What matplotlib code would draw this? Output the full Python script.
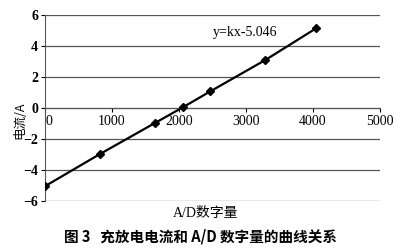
import matplotlib
matplotlib.use("Agg")
import matplotlib.pyplot as plt

# A/D count vs. current
ad_counts = [0, 820, 1640, 2060, 2470, 3290, 4050]
current = [-5.046, -2.97, -0.97, 0.05, 1.08, 3.1, 5.15]
x_ticks = [0, 1000, 2000, 3000, 4000, 5000]
y_ticks = [-6, -4, -2, 0, 2, 4, 6]

plt.rcParams['font.family'] = ['Liberation Serif', 'Noto Sans CJK SC']

fig = plt.figure(figsize=(4, 2.5), dpi=100)
ax = fig.add_axes([0.1125, 0.196, 0.8375, 0.744])

for y in y_ticks:
    ax.axhline(y, color='#555555', lw=0.9, zorder=0)

ax.plot(ad_counts, current, color='black', lw=1.6, marker='D', ms=4, zorder=3)

ax.set_xlim(0, 5000)
ax.set_ylim(-6, 6)
ax.set_yticks(y_ticks)
ax.set_yticklabels(['\u22126', '\u22124', '\u22122', '0', '2', '4', '6'], fontsize=10, fontweight='bold')
ax.set_xticks(x_ticks)
ax.set_xticklabels([str(v) for v in x_ticks], fontsize=10)

for s in ['top', 'right']:
    ax.spines[s].set_visible(False)
ax.spines['bottom'].set_position(('data', 0))
ax.spines['bottom'].set_color('#555555')
ax.spines['left'].set_color('#555555')
ax.tick_params(axis='x', direction='out', length=3, pad=2)
ax.tick_params(axis='y', direction='out', length=3, pad=2)

# nudge the "0" label off the y axis like the original
fig.canvas.draw()
ax.xaxis.get_major_ticks()[0].label1.set_horizontalalignment('left')

ax.text(2510, 4.9, 'y=kx-5.046', fontsize=10, va='center')

fig.text(0.05, 0.52, '电流/A', rotation=90, ha='center', va='center', fontsize=9,
         family=['Noto Sans CJK SC', 'DejaVu Sans'])
fig.text(0.515, 0.148, 'A/D数字量', ha='center', va='center', fontsize=10,
         family=['Liberation Serif', 'Noto Sans CJK SC'])
fig.text(0.5, 0.052, '图 3   充放电电流和 A/D 数字量的曲线关系', ha='center', va='center',
         fontsize=10.5, fontweight='bold', family=['Noto Sans CJK SC', 'DejaVu Sans'])

fig.savefig('out.png', dpi=100, facecolor='white')
